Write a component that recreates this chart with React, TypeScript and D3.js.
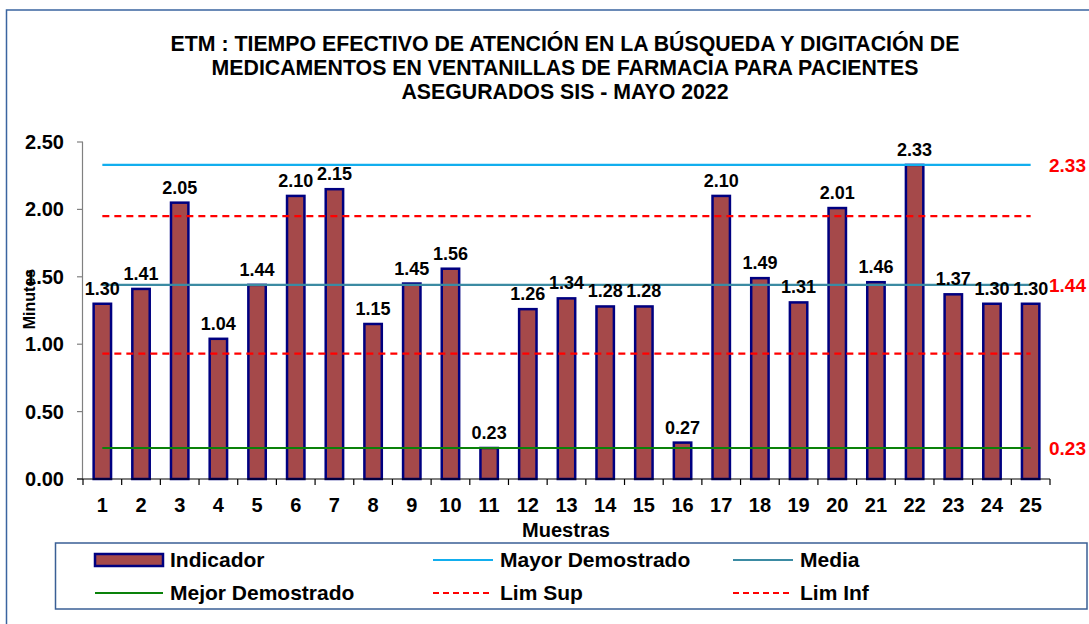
import React from 'react';
import * as d3 from 'd3';

const titleLines = [
  'ETM : TIEMPO EFECTIVO DE ATENCIÓN EN LA BÚSQUEDA Y DIGITACIÓN DE',
  'MEDICAMENTOS EN VENTANILLAS DE FARMACIA  PARA PACIENTES',
  'ASEGURADOS SIS - MAYO 2022',
];

const muestras = ['1', '2', '3', '4', '5', '6', '7', '8', '9', '10', '11', '12', '13', '14', '15', '16', '17', '18', '19', '20', '21', '22', '23', '24', '25'];
const indicador = [1.30, 1.41, 2.05, 1.04, 1.44, 2.10, 2.15, 1.15, 1.45, 1.56, 0.23, 1.26, 1.34, 1.28, 1.28, 0.27, 2.10, 1.49, 1.31, 2.01, 1.46, 2.33, 1.37, 1.30, 1.30];

const mayorDemostrado = 2.33;
const limSup = 1.95;
const media = 1.44;
const limInf = 0.93;
const mejorDemostrado = 0.23;

const yTicks = [0, 0.5, 1.0, 1.5, 2.0, 2.5];

const FONT = '"Liberation Sans", Arial, sans-serif';
const BAR_FILL = '#A5494A';
const BAR_STROKE = '#000080';

export default function App() {
  const plot = { left: 83, right: 1050, top: 142, bottom: 479 };

  const x = d3.scaleBand<string>()
    .domain(muestras)
    .range([plot.left, plot.right])
    .paddingInner(0.55)
    .paddingOuter(0.275);

  const y = d3.scaleLinear().domain([0, 2.5]).range([plot.bottom, plot.top]);

  const cx = (c: string) => (x(c) ?? 0) + x.bandwidth() / 2;
  const lineX1 = cx(muestras[0]);
  const lineX2 = cx(muestras[muestras.length - 1]);

  const refLines = [
    { value: mayorDemostrado, color: '#12AEEE', dash: null },
    { value: limSup, color: '#FF0000', dash: '7,5' },
    { value: media, color: '#3B8BA3', dash: null },
    { value: limInf, color: '#FF0000', dash: '7,5' },
    { value: mejorDemostrado, color: '#0A820A', dash: null },
  ];

  const step = x.step();
  const boundaries = d3.range(muestras.length + 1).map(i => plot.left + i * step);

  const legendItems = [
    { label: 'Indicador', kind: 'bar', color: BAR_FILL, dash: null, col: 0, row: 0 },
    { label: 'Mayor Demostrado', kind: 'line', color: '#12AEEE', dash: null, col: 1, row: 0 },
    { label: 'Media', kind: 'line', color: '#3B8BA3', dash: null, col: 2, row: 0 },
    { label: 'Mejor Demostrado', kind: 'line', color: '#0A820A', dash: null, col: 0, row: 1 },
    { label: 'Lim Sup', kind: 'line', color: '#FF0000', dash: '6,4', col: 1, row: 1 },
    { label: 'Lim Inf', kind: 'line', color: '#FF0000', dash: '6,4', col: 2, row: 1 },
  ];
  const legendCols = [
    { sx1: 95, sx2: 163, tx: 170 },
    { sx1: 433, sx2: 493, tx: 500 },
    { sx1: 733, sx2: 793, tx: 800 },
  ];
  const legendRows = [560, 593];

  return (
    <svg
      width={1089}
      height={624}
      style={{ position: 'absolute', left: 0, top: 0, background: '#fff' }}
      fontFamily={FONT}
    >
      <rect x={0} y={0} width={1089} height={624} fill="#fff" />
      {/* outer frame */}
      <rect x={6.5} y={10} width={1200} height={700} fill="none" stroke="#3A64A0" strokeWidth={1.5} />

      {/* title */}
      {titleLines.map((t, i) => (
        <text key={i} x={565} y={51 + i * 24} textAnchor="middle" fontSize={21.3} fontWeight="bold" fill="#000">
          {t}
        </text>
      ))}

      {/* y axis */}
      <line x1={plot.left - 0.5} x2={plot.left - 0.5} y1={plot.top} y2={plot.bottom} stroke="#808080" strokeWidth={1.2} />
      {yTicks.map(t => (
        <g key={t}>
          <line x1={plot.left - 6} x2={plot.left} y1={y(t)} y2={y(t)} stroke="#808080" strokeWidth={1.2} />
          <text x={64} y={y(t)} dy="0.35em" textAnchor="end" fontSize={20} fontWeight="bold">
            {d3.format('.2f')(t)}
          </text>
        </g>
      ))}
      <text
        transform={`translate(35,299) rotate(-90)`}
        textAnchor="middle"
        fontSize={16}
        fontWeight="bold"
      >
        Minutes
      </text>

      {/* bars */}
      {muestras.map((c, i) => (
        <rect
          key={c}
          x={x(c)}
          y={y(indicador[i])}
          width={x.bandwidth()}
          height={plot.bottom - y(indicador[i])}
          fill={BAR_FILL}
          stroke={BAR_STROKE}
          strokeWidth={2.5}
        />
      ))}

      {/* reference lines */}
      {refLines.map((r, i) => (
        <line
          key={i}
          x1={lineX1}
          x2={lineX2}
          y1={y(r.value)}
          y2={y(r.value)}
          stroke={r.color}
          strokeWidth={2.2}
          strokeDasharray={r.dash ?? undefined}
        />
      ))}

      {/* bar value labels */}
      {muestras.map((c, i) => (
        <text key={c} x={cx(c)} y={y(indicador[i]) - 9} textAnchor="middle" fontSize={18} fontWeight="bold">
          {d3.format('.2f')(indicador[i])}
        </text>
      ))}

      {/* x axis */}
      <line x1={plot.left - 6} x2={plot.right} y1={plot.bottom} y2={plot.bottom} stroke="#000" strokeWidth={1.2} />
      {boundaries.map((b, i) => (
        <line key={i} x1={b} x2={b} y1={plot.bottom} y2={plot.bottom + 6} stroke="#000" strokeWidth={1.2} />
      ))}
      {muestras.map(c => (
        <text key={c} x={cx(c)} y={512} textAnchor="middle" fontSize={20} fontWeight="bold">
          {c}
        </text>
      ))}
      <text x={566} y={537} textAnchor="middle" fontSize={20} fontWeight="bold">
        Muestras
      </text>

      {/* right side value labels */}
      {[mayorDemostrado, media, mejorDemostrado].map((v, i) => (
        <text key={i} x={1049} y={y(v)} dy="0.35em" fontSize={19} fontWeight="bold" fill="#FF0000">
          {d3.format('.2f')(v)}
        </text>
      ))}

      {/* legend */}
      <rect x={55.5} y={543} width={1031.5} height={66} fill="#fff" stroke="#3A5F95" strokeWidth={1.5} />
      {legendItems.map(it => {
        const col = legendCols[it.col];
        const ly = legendRows[it.row];
        return (
          <g key={it.label}>
            {it.kind === 'bar' ? (
              <rect x={col.sx1} y={ly - 6} width={col.sx2 - col.sx1} height={12} fill={it.color} stroke={BAR_STROKE} strokeWidth={2.5} />
            ) : (
              <line x1={col.sx1} x2={col.sx2} y1={ly} y2={ly} stroke={it.color} strokeWidth={2.2} strokeDasharray={it.dash ?? undefined} />
            )}
            <text x={col.tx} y={ly} dy="0.35em" fontSize={21} fontWeight="bold">
              {it.label}
            </text>
          </g>
        );
      })}
    </svg>
  );
}
